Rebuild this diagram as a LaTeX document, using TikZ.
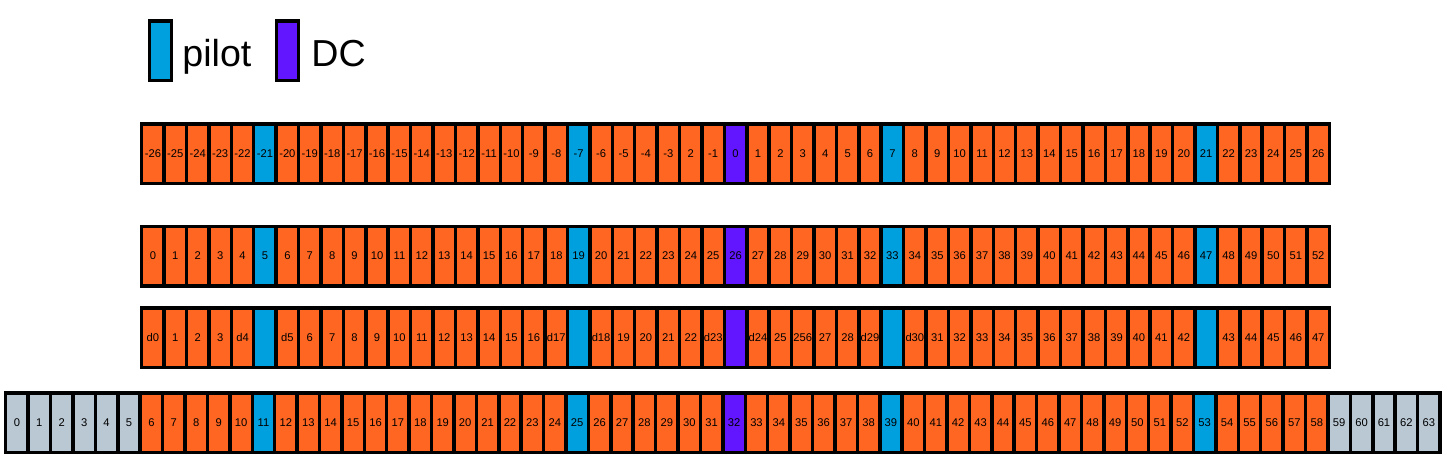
\documentclass[tikz,border=0pt]{standalone}
\usepackage{fontspec}
\setmainfont{Liberation Sans}
\usetikzlibrary{positioning}
\definecolor{data}{RGB}{255,102,34}
\definecolor{pilot}{RGB}{0,160,222}
\definecolor{dc}{RGB}{98,22,255}
\definecolor{guard}{RGB}{186,200,211}

\begin{document}
\begin{tikzpicture}[
    x=0.5pt, y=-0.5pt,
    cell/.style={rectangle, draw=black, line width=1.75pt, minimum width=11.205pt,
                 minimum height=29.75pt, inner sep=0pt, outer sep=0pt,
                 font=\fontsize{5.6}{6}\selectfont},
    keytext/.style={anchor=base west, inner sep=0pt, font=\fontsize{18.8}{22}\selectfont}
]
    \useasboundingbox (0,0) rectangle (1454,466);

    % legend
    \node[cell, fill=pilot] (pilotkey) at (160.5,50.5) {};
    \node[keytext] (pilottext) at (182,66) {pilot};
    \node[cell, fill=dc] (dckey) at (287.5,50.5) {};
    \node[keytext] (dctext) at (311,66) {DC};

    % subcarrier index -26..26
    \foreach \lab/\kind [count=\i from 0] in {-26/data,-25/data,-24/data,-23/data,-22/data,-21/pilot,
        -20/data,-19/data,-18/data,-17/data,-16/data,-15/data,-14/data,-13/data,-12/data,-11/data,-10/data,-9/data,-8/data,
        -7/pilot,-6/data,-5/data,-4/data,-3/data,2/data,-1/data,0/dc,1/data,2/data,3/data,4/data,5/data,6/data,7/pilot,
        8/data,9/data,10/data,11/data,12/data,13/data,14/data,15/data,16/data,17/data,18/data,19/data,20/data,21/pilot,
        22/data,23/data,24/data,25/data,26/data}
        \node[cell, fill=\kind] (freq\i) at ({152.9+22.41*\i},153.5) {\lab};

    % subcarrier index 0..52
    \foreach \lab/\kind [count=\i from 0] in {0/data,1/data,2/data,3/data,4/data,5/pilot,
        6/data,7/data,8/data,9/data,10/data,11/data,12/data,13/data,14/data,15/data,16/data,17/data,18/data,19/pilot,
        20/data,21/data,22/data,23/data,24/data,25/data,26/dc,27/data,28/data,29/data,30/data,31/data,32/data,33/pilot,
        34/data,35/data,36/data,37/data,38/data,39/data,40/data,41/data,42/data,43/data,44/data,45/data,46/data,47/pilot,
        48/data,49/data,50/data,51/data,52/data}
        \node[cell, fill=\kind] (sub\i) at ({152.9+22.41*\i},256) {\lab};

    % data symbols
    \foreach \lab/\kind [count=\i from 0] in {d0/data,1/data,2/data,3/data,d4/data,/pilot,
        d5/data,6/data,7/data,8/data,9/data,10/data,11/data,12/data,13/data,14/data,15/data,16/data,d17/data,/pilot,
        d18/data,19/data,20/data,21/data,22/data,d23/data,/dc,d24/data,25/data,256/data,27/data,28/data,d29/data,/pilot,
        d30/data,31/data,32/data,33/data,34/data,35/data,36/data,37/data,38/data,39/data,40/data,41/data,42/data,/pilot,
        43/data,44/data,45/data,46/data,47/data}
        \node[cell, fill=\kind] (sym\i) at ({152.9+22.41*\i},337.5) {\lab};

    % FFT bins 0..63
    \foreach \lab/\kind [count=\i from 0] in {0/guard,1/guard,2/guard,3/guard,4/guard,5/guard,
        6/data,7/data,8/data,9/data,10/data,11/pilot,
        12/data,13/data,14/data,15/data,16/data,17/data,18/data,19/data,20/data,21/data,22/data,23/data,24/data,25/pilot,
        26/data,27/data,28/data,29/data,30/data,31/data,32/dc,33/data,34/data,35/data,36/data,37/data,38/data,39/pilot,
        40/data,41/data,42/data,43/data,44/data,45/data,46/data,47/data,48/data,49/data,50/data,51/data,52/data,53/pilot,
        54/data,55/data,56/data,57/data,58/data,59/guard,60/guard,61/guard,62/guard,63/guard}
        \node[cell, fill=\kind] (fft\i) at ({16.95+22.41*\i},422.5) {\lab};
\end{tikzpicture}
\end{document}
